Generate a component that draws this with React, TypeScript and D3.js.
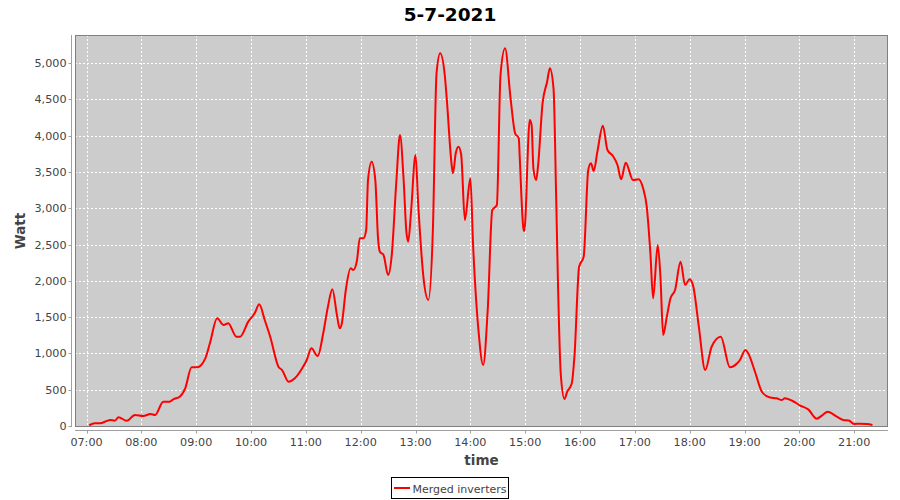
import React from "react";
import * as d3 from "d3";

const title = "5-7-2021";
const seriesName = "Merged inverters";
const yLabel = "Watt";
const xLabel = "time";

const times = [
  "07:03","07:09","07:15","07:22","07:26","07:31","07:35","07:44","07:53","08:02",
  "08:10","08:15","08:24","08:31","08:35","08:42","08:48","08:55","09:01","09:10",
  "09:15","09:23","09:30","09:35","09:44","09:48","09:57","10:04","10:09","10:15",
  "10:21","10:30","10:34","10:41","10:48","10:56","11:01","11:06","11:13","11:19",
  "11:24","11:29","11:34","11:37","11:39","11:44","11:49","11:52","11:56","11:59",
  "12:03","12:06","12:08","12:12","12:16","12:19","12:21","12:25","12:30","12:34",
  "12:39","12:43","12:47","12:50","12:52","12:55","13:00","13:03","13:09","13:14",
  "13:19","13:23","13:27","13:32","13:34","13:40","13:41","13:44","13:47","13:50",
  "13:54","14:00","14:03","14:09","14:14","14:19","14:24","14:29","14:33","14:38",
  "14:44","14:49","14:53","14:54","14:58","14:59","15:05","15:07","15:09","15:12",
  "15:14","15:19","15:24","15:27","15:31","15:34","15:36","15:39","15:43","15:46",
  "15:51","15:54","15:59","16:04","16:09","16:12","16:15","16:19","16:25","16:30",
  "16:36","16:41","16:45","16:50","16:58","17:04","17:09","17:13","17:17","17:20",
  "17:25","17:28","17:31","17:35","17:39","17:44","17:50","17:55","18:00","18:04",
  "18:10","18:17","18:24","18:34","18:44","18:52","18:55","19:01","19:04","19:12",
  "19:19","19:28","19:35","19:41","19:44","19:52","20:01","20:10","20:19","20:25",
  "20:31","20:41","20:48","20:54","21:00","21:06","21:14","21:20"
];

const watts = [
  10, 37, 37, 69, 83, 73, 120, 73, 152, 138,
  165, 152, 335, 335, 368, 404, 519, 809, 809, 932,
  1139, 1483, 1391, 1415, 1230, 1230, 1437, 1552, 1676, 1460,
  1230, 817, 771, 610, 657, 795, 909, 1070, 964, 1277,
  1632, 1883, 1529, 1346, 1391, 1897, 2172, 2149, 2286, 2585,
  2585, 2700, 3388, 3641, 3388, 2585, 2401, 2355, 2080, 2355,
  3365, 4008, 3388, 2676, 2539, 2930, 3733, 3044, 2011, 1736,
  2700, 4858, 5134, 4835, 4536, 3550, 3481, 3756, 3847, 3733,
  2837, 3412, 2493, 1299, 840, 1598, 2975, 3044, 4835, 5202,
  4514, 4032, 3963, 3709, 2723, 2686, 4215, 4146, 3550, 3388,
  3572, 4445, 4742, 4927, 4651, 3090, 1897, 702, 372, 472,
  588, 978, 2194, 2332, 3526, 3618, 3512, 3778, 4135, 3802,
  3719, 3595, 3398, 3627, 3388, 3398, 3274, 3021, 2379, 1759,
  2493, 2056, 1253, 1506, 1759, 1873, 2263, 1942, 2021, 1919,
  1368, 771, 1092, 1230, 809, 864, 909, 1047, 1001, 726,
  472, 393, 382, 358, 382, 348, 282, 225, 101, 147,
  197, 128, 83, 76, 28, 32, 28, 14
];

const yTicks = [0, 500, 1000, 1500, 2000, 2500, 3000, 3500, 4000, 4500, 5000];
const xTickLabels = [
  "07:00","08:00","09:00","10:00","11:00","12:00","13:00",
  "14:00","15:00","16:00","17:00","18:00","19:00","20:00","21:00"
];

const toDate = (s: string) => {
  const [h, m] = s.split(":").map(Number);
  return new Date(2021, 6, 5, h, m, 0);
};

export default function App() {
  const W = 900, H = 500;
  const left = 75, right = 888, top = 35, bottom = 427;

  const x = d3
    .scaleTime()
    .domain([new Date(2021, 6, 5, 6, 47, 24), new Date(2021, 6, 5, 21, 37, 0)])
    .range([left, right]);
  const y = d3.scaleLinear().domain([-14, 5386]).range([bottom, top]);

  const data = times.map((t, i) => ({ t: toDate(t), v: watts[i] }));
  const line = d3
    .line<{ t: Date; v: number }>()
    .x((d) => x(d.t))
    .y((d) => y(d.v))
    .curve(d3.curveMonotoneX);

  const fmt = d3.format(",");
  const font = "'DejaVu Sans', sans-serif";
  const xAxisY = bottom + 3.5;
  const yAxisX = left - 3.5;

  return (
    <svg
      width={W}
      height={H}
      style={{ position: "absolute", left: 0, top: 0, background: "#fff" }}
      fontFamily={font}
    >
      <rect x={0} y={0} width={W} height={H} fill="#fff" />
      <text x={450} y={21} textAnchor="middle" fontSize={18.5} fontWeight="bold" fill="#000">
        {title}
      </text>

      <rect x={left} y={top} width={right - left} height={bottom - top} fill="#cccccc" />

      <g stroke="#ffffff" strokeWidth={1} strokeDasharray="2,2">
        {yTicks.map((t) => (
          <line key={"gy" + t} x1={left} x2={right} y1={Math.round(y(t)) + 0.5} y2={Math.round(y(t)) + 0.5} />
        ))}
        {xTickLabels.map((s) => (
          <line key={"gx" + s} x1={Math.round(x(toDate(s))) + 0.5} x2={Math.round(x(toDate(s))) + 0.5} y1={top} y2={bottom} />
        ))}
      </g>

      <path d={line(data) || ""} fill="none" stroke="#ff0000" strokeWidth={2} strokeLinejoin="round" />

      <rect x={left + 0.5} y={top + 0.5} width={right - left - 1} height={bottom - top - 1} fill="none" stroke="#808080" strokeWidth={1} />

      {/* Y axis */}
      <line x1={yAxisX} x2={yAxisX} y1={top} y2={bottom} stroke="#a0a0a0" />
      {yTicks.map((t) => (
        <g key={"yt" + t}>
          <line x1={yAxisX - 3} x2={yAxisX} y1={Math.round(y(t)) + 0.5} y2={Math.round(y(t)) + 0.5} stroke="#a0a0a0" />
          <text x={yAxisX - 5} y={y(t) + 4} textAnchor="end" fontSize={11.2} fill="#444">
            {fmt(t)}
          </text>
        </g>
      ))}
      <text
        transform={`translate(25,${(top + bottom) / 2}) rotate(-90)`}
        textAnchor="middle"
        fontSize={13.5}
        fontWeight="bold"
        fill="#444"
      >
        {yLabel}
      </text>

      {/* X axis */}
      <line x1={left} x2={right} y1={xAxisY} y2={xAxisY} stroke="#a0a0a0" />
      {xTickLabels.map((s) => (
        <g key={"xt" + s}>
          <line x1={Math.round(x(toDate(s))) + 0.5} x2={Math.round(x(toDate(s))) + 0.5} y1={xAxisY} y2={xAxisY + 3} stroke="#a0a0a0" />
          <text x={x(toDate(s))} y={445.5} textAnchor="middle" fontSize={11.2} fill="#444">
            {s}
          </text>
        </g>
      ))}
      <text x={(left + right) / 2} y={465} textAnchor="middle" fontSize={13.5} fontWeight="bold" fill="#444">
        {xLabel}
      </text>

      {/* Legend */}
      <rect x={391.5} y={477.5} width={117} height={21} fill="#fff" stroke="#000" />
      <line x1={394} x2={410} y1={488} y2={488} stroke="#ff0000" strokeWidth={2} />
      <rect x={401} y={487} width={2} height={2} fill="#ff0000" />
      <text x={412.5} y={492.5} fontSize={11} fill="#444">
        {seriesName}
      </text>
    </svg>
  );
}
